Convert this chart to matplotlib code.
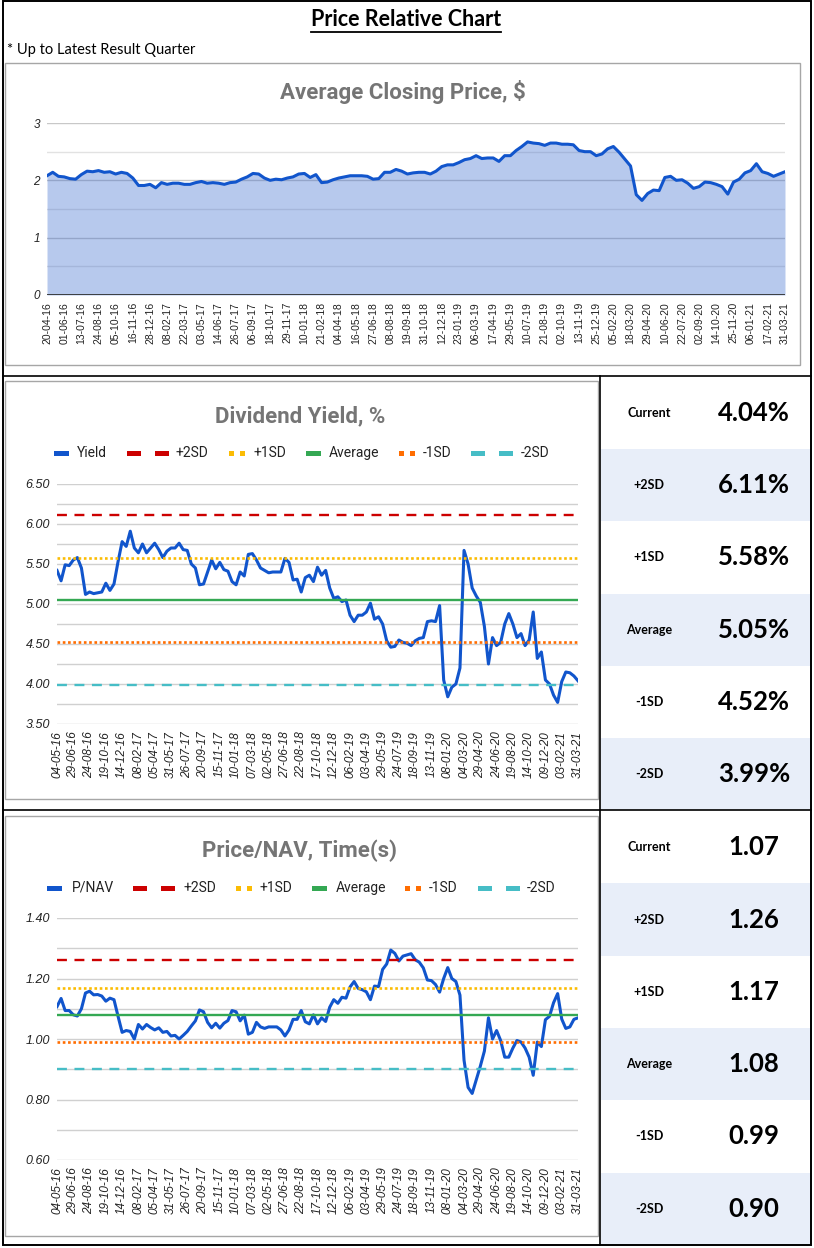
import numpy as np
import pandas as pd
import matplotlib
matplotlib.use("Agg")
import matplotlib.pyplot as plt
from matplotlib.patches import Rectangle

plt.rcParams['font.family'] = ['Lato', 'DejaVu Sans']

# ---------------- data ----------------
# average closing price, sampled every two weeks from 20-04-16
price = [2.08, 2.14, 2.07, 2.06, 2.03, 2.02, 2.10, 2.16, 2.15, 2.17,
         2.14, 2.15, 2.11, 2.14, 2.12, 2.04, 1.91, 1.91, 1.93, 1.87,
         1.96, 1.93, 1.95, 1.95, 1.93, 1.93, 1.96, 1.98, 1.95, 1.96,
         1.95, 1.93, 1.96, 1.97, 2.02, 2.06, 2.12, 2.11, 2.04, 2.00,
         2.02, 2.01, 2.04, 2.06, 2.11, 2.12, 2.05, 2.10, 1.96, 1.97,
         2.01, 2.04, 2.06, 2.08, 2.08, 2.08, 2.07, 2.02, 2.03, 2.14,
         2.14, 2.19, 2.16, 2.11, 2.13, 2.14,
         2.14, 2.11, 2.16, 2.24, 2.27, 2.27, 2.31, 2.36, 2.38, 2.43,
         2.38, 2.39, 2.39, 2.33, 2.43, 2.43, 2.52, 2.59, 2.67, 2.65,
         2.64, 2.61, 2.65, 2.65, 2.63, 2.63, 2.62, 2.52, 2.50, 2.50,
         2.43, 2.46, 2.55, 2.59, 2.49, 2.37, 2.25, 1.75, 1.65, 1.77,
         1.83, 1.82, 2.05, 2.07, 2.00, 2.01, 1.95, 1.86, 1.89, 1.97,
         1.96, 1.93, 1.89, 1.76, 1.97, 2.02, 2.13, 2.17, 2.29, 2.15,
         2.12, 2.07, 2.11, 2.15]
price_start = '2016-04-20'

# dividend yield (%), every two weeks from 04-05-16
yield_pct = [5.42, 5.29, 5.49, 5.48, 5.55, 5.58, 5.45, 5.12, 5.15, 5.13,
             5.14, 5.15, 5.26, 5.17, 5.25, 5.53, 5.78, 5.72, 5.91, 5.70,
             5.64, 5.75, 5.64, 5.70, 5.76, 5.68, 5.58, 5.66, 5.70, 5.70,
             5.76, 5.68, 5.67, 5.50, 5.45, 5.24, 5.25, 5.40, 5.55, 5.44,
             5.52, 5.43, 5.41, 5.28, 5.24, 5.40, 5.35, 5.62, 5.63, 5.55,
             5.45, 5.42, 5.39, 5.40, 5.40, 5.40, 5.57, 5.52, 5.30, 5.31,
             5.15, 5.33, 5.36, 5.28, 5.46, 5.36, 5.42, 5.20, 5.07, 5.09,
             5.03, 5.05, 4.86, 4.78, 4.86, 4.86, 4.90, 5.01, 4.81, 4.84,
             4.75, 4.54, 4.46, 4.47, 4.55, 4.52, 4.51, 4.48, 4.54, 4.57,
             4.58, 4.78, 4.79, 4.78, 4.98, 4.05, 3.84, 3.96, 4.00, 4.20,
             5.67, 5.50, 5.20, 5.10, 5.02, 4.72, 4.25, 4.58, 4.48, 4.52,
             4.75, 4.88, 4.75, 4.58, 4.63, 4.48, 4.55, 4.90, 4.32, 4.40,
             4.05, 4.00, 3.86, 3.77, 4.03, 4.15, 4.14, 4.10, 4.04]

# price / NAV, same dates as the yield
pnav = [1.107, 1.134, 1.094, 1.094, 1.080, 1.076, 1.100, 1.152, 1.158, 1.146,
        1.147, 1.142, 1.125, 1.135, 1.130, 1.075, 1.022, 1.028, 1.025, 1.000,
        1.048, 1.033, 1.048, 1.038, 1.030, 1.037, 1.022, 1.025, 1.010, 1.012,
        1.000, 1.012, 1.025, 1.043, 1.060, 1.096, 1.090, 1.055, 1.037, 1.052,
        1.036, 1.052, 1.061, 1.094, 1.090, 1.060, 1.079, 1.016, 1.022, 1.055,
        1.040, 1.035, 1.040, 1.040, 1.040, 1.030, 1.010, 1.030, 1.065, 1.065,
        1.094, 1.057, 1.050, 1.080, 1.050, 1.070, 1.058, 1.105, 1.130, 1.118,
        1.138, 1.135, 1.172, 1.190, 1.167, 1.163, 1.156, 1.130, 1.175, 1.173,
        1.230, 1.248, 1.294, 1.283, 1.258, 1.274, 1.278, 1.282, 1.262, 1.254,
        1.235, 1.195, 1.193, 1.180, 1.155, 1.200, 1.236, 1.200, 1.190, 1.145,
        0.930, 0.840, 0.820, 0.865, 0.910, 0.960, 1.070, 1.000, 1.028, 0.995,
        0.940, 0.940, 0.970, 0.995, 0.990, 0.970, 0.940, 0.880, 0.990, 0.975,
        1.064, 1.075, 1.120, 1.150, 1.066, 1.035, 1.040, 1.065, 1.070]
ratio_start = '2016-05-04'

band_names = ['+2SD', '+1SD', 'Average', '-1SD', '-2SD']
yield_bands = [6.11, 5.58, 5.05, 4.52, 3.99]
pnav_bands = [1.26, 1.17, 1.08, 0.99, 0.90]

band_colors = ['#CC0000', '#FBBC04', '#34A853', '#FF6D01', '#46BDC6']
band_styles = [(0, (4.2, 3.2)), (0, (1, 1)), '-', (0, (1, 1)), (0, (4.2, 3.2))]
band_widths = [1.7, 1.9, 1.7, 1.9, 1.7]
blue = '#1155CC'

# ---------------- layout helpers ----------------
W, H = 814, 1248


def box(x0, y0, x1, y1):
    return [x0 / W, 1 - y1 / H, (x1 - x0) / W, (y1 - y0) / H]


fig = plt.figure(figsize=(W / 100, H / 100), dpi=100)
bg = fig.add_axes([0, 0, 1, 1])
bg.set_xlim(0, W)
bg.set_ylim(H, 0)
bg.axis('off')

# outer frame and separators
bg.add_patch(Rectangle((3, 1), 808, 1244, fill=False, ec='black', lw=1.4))
bg.plot([3, 811], [376, 376], color='black', lw=1.2)
bg.plot([3, 811], [810, 810], color='black', lw=1.2)
bg.plot([600, 600], [376, 1245], color='black', lw=1.2)

# chart panels
for (x0, y0, x1, y1) in [(5, 63, 800, 365), (5, 381, 598, 799), (5, 816, 598, 1236)]:
    bg.add_patch(Rectangle((x0, y0), x1 - x0, y1 - y0, fill=False, ec='#a6a6a6', lw=1))

# heading
t = bg.text(406, 20, 'Price Relative Chart', ha='center', va='center',
            fontsize=15.5, fontweight='bold', color='black')
bg.text(7, 50, '* Up to Latest Result Quarter', ha='left', va='center',
        fontsize=10.5, color='black')
fig.canvas.draw()
bb = t.get_window_extent().transformed(bg.transData.inverted())
bg.plot([bb.x0, bb.x1], [bb.y0 + 1, bb.y0 + 1], color='black', lw=1.3)

title_kw = dict(ha='center', va='center', fontsize=16, fontweight='bold',
                color='#757575', family=['Roboto', 'DejaVu Sans'])
bg.text(403, 92, 'Average Closing Price, $', **title_kw)
bg.text(300, 416, 'Dividend Yield, %', **title_kw)
bg.text(300, 851, 'Price/NAV, Time(s)', **title_kw)


def legend_row(y, first_label, xs):
    # xs: (marker start, text x) for each entry
    labels = [first_label] + band_names
    colors = [blue] + band_colors
    kinds = ['solid', 'dash', 'dot', 'solid', 'dot', 'dash']
    for (mx, tx), lab, col, kind in zip(xs, labels, colors, kinds):
        if kind == 'solid':
            segs = [(mx, 15)]
        elif kind == 'dash':
            segs = [(mx, 14), (mx + 28, 14)]
        else:
            segs = [(mx, 5), (mx + 11, 5)]
        for sx, sw in segs:
            bg.add_patch(Rectangle((sx, y - 2.5), sw, 5, fc=col, ec='none'))
        bg.text(tx, y, lab, ha='left', va='center', fontsize=10, color='#222222',
                family=['Roboto', 'DejaVu Sans'])


legend_row(453, 'Yield', [(54, 77), (127, 176), (229, 254), (306, 329), (399, 423), (471, 521)])
legend_row(888, 'P/NAV', [(47, 72), (133, 183), (236, 260), (312, 336), (405, 429), (478, 527)])

tick_font = ['Liberation Sans', 'DejaVu Sans']

# ---------------- top chart: price ----------------
ax1 = fig.add_axes(box(47, 123, 785, 295))
ax1.set_facecolor('none')
xp = np.arange(len(price))
dates1 = pd.date_range(price_start, periods=len(price), freq='14D').strftime('%d-%m-%y')
for v in np.arange(0.5, 3.01, 0.5):
    ax1.axhline(v, color='#c8c8c8' if v % 1 == 0 else '#e2e2e2', lw=1, zorder=1)
ax1.fill_between(xp, price, 0, color='#3366CC', alpha=0.35, lw=0, zorder=2)
ax1.plot(xp, price, color=blue, lw=2.2, zorder=3, solid_joinstyle='round')
ax1.axhline(0, color='#333333', lw=1.3, zorder=4)
ax1.set_xlim(0, len(price) - 1)
ax1.set_ylim(0, 3)
ax1.set_yticks([0, 1, 2, 3])
ax1.set_yticklabels(['0', '1', '2', '3'], fontstyle='italic', fontsize=8.5,
                    family=tick_font, color='#222222')
ax1.set_xticks(xp[::3])
ax1.set_xticklabels(dates1[::3], rotation=90, fontsize=7.5, family=tick_font, color='#222222')
ax1.tick_params(length=0, pad=5)
for s in ax1.spines.values():
    s.set_visible(False)


# ---------------- band charts ----------------
def band_chart(rect, series, bands, ylo, yhi, gstep, lstep):
    ax = fig.add_axes(box(*rect))
    ax.set_facecolor('none')
    x = np.arange(len(series))
    dates = pd.date_range(ratio_start, periods=len(series), freq='14D').strftime('%d-%m-%y')
    for v in np.arange(ylo, yhi + 1e-6, gstep):
        ax.axhline(v, color='#d0d0d0', lw=1, zorder=1)
    ax.plot(x, series, color=blue, lw=2.2, zorder=2, solid_joinstyle='round')
    for val, col, ls, lw in zip(bands, band_colors, band_styles, band_widths):
        ax.axhline(val, color=col, ls=ls, lw=lw, zorder=3)
    ax.set_xlim(0, len(series) - 1)
    ax.set_ylim(ylo, yhi)
    ticks = np.arange(ylo, yhi + 1e-6, lstep)
    ax.set_yticks(ticks)
    ax.set_yticklabels([f'{v:.2f}' for v in ticks], fontstyle='italic', fontsize=9,
                       family=tick_font, color='#222222')
    ax.set_xticks(x[::4])
    ax.set_xticklabels(dates[::4], rotation=90, fontsize=8.5, fontstyle='italic',
                       family=tick_font, color='#222222')
    ax.tick_params(length=0, pad=5)
    for s in ax.spines.values():
        s.set_visible(False)
    return ax


band_chart((57, 484, 578, 724), yield_pct, yield_bands, 3.5, 6.5, 0.25, 0.5)
band_chart((57, 918, 578, 1160), pnav, pnav_bands, 0.6, 1.4, 0.1, 0.2)


# ---------------- side tables ----------------
def side_table(y0, y1, current, bands, fmt):
    rh = (y1 - y0) / 6
    names = ['Current'] + band_names
    vals = [current] + bands
    for i, (nm, v) in enumerate(zip(names, vals)):
        top = y0 + i * rh
        if i % 2 == 1:
            bg.add_patch(Rectangle((601, top), 209, rh, fc='#E8EEF9', ec='none', zorder=0))
        yc = top + rh / 2
        bg.text(649, yc, nm, ha='center', va='center', fontsize=9, fontweight='bold', color='black')
        bg.text(754, yc, fmt(v), ha='center', va='center', fontsize=18.5, fontweight='bold',
                color='black')


side_table(377, 810, yield_pct[-1], yield_bands, lambda v: f'{v:.2f}%')
side_table(811, 1245, pnav[-1], pnav_bands, lambda v: f'{v:.2f}')

fig.savefig('out.png', dpi=100)
